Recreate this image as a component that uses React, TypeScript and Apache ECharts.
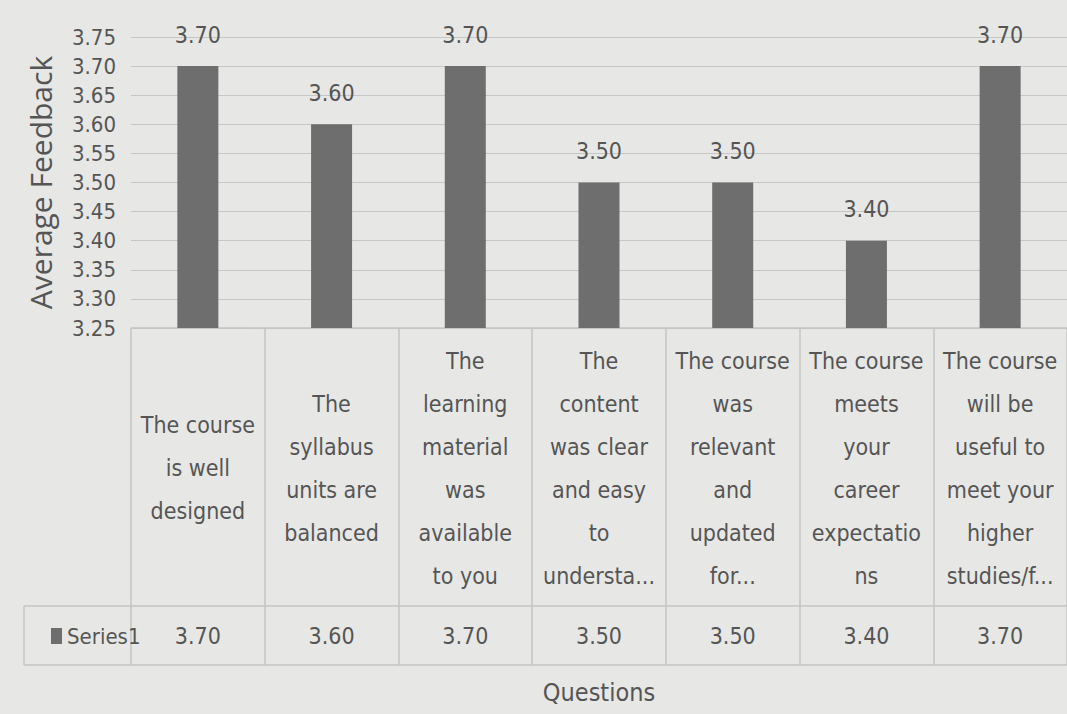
import React, { useEffect, useRef } from "react";
import * as echarts from "echarts";

const categories = [
  "The course\nis well\ndesigned",
  "The\nsyllabus\nunits are\nbalanced",
  "The\nlearning\nmaterial\nwas\navailable\nto you",
  "The\ncontent\nwas clear\nand easy\nto\nundersta...",
  "The course\nwas\nrelevant\nand\nupdated\nfor...",
  "The course\nmeets\nyour\ncareer\nexpectatio\nns",
  "The course\nwill be\nuseful to\nmeet your\nhigher\nstudies/f...",
];
const seriesName = "Series1";
const values = [3.7, 3.6, 3.7, 3.5, 3.5, 3.4, 3.7];
const yMin = 3.25;
const yMax = 3.75;
const yStep = 0.05;
const yTitle = "Average Feedback";
const xTitle = "Questions";

const NARROW = "'Liberation Sans Narrow', 'DejaVu Sans Condensed', 'Liberation Sans', sans-serif";
const TEXT = "#555555";
const BORDER = "#c4c4c2";

export default function App() {
  const ref = useRef<HTMLDivElement>(null);
  useEffect(() => {
    if (!ref.current) return;
    const chart = echarts.init(ref.current, undefined, { renderer: "svg" });
    chart.setOption({
      animation: false,
      backgroundColor: "#e7e7e5",
      textStyle: { fontFamily: NARROW, color: TEXT },
      legend: {
        data: [seriesName],
        left: 46,
        top: 620,
        icon: "rect",
        itemWidth: 11,
        itemHeight: 16,
        itemGap: 3,
        textStyle: { fontFamily: NARROW, fontSize: 22, color: TEXT },
      },
      grid: { left: 131, right: 0, top: 37, height: 291, containLabel: false },
      xAxis: [
        {
          type: "category",
          data: categories,
          position: "bottom",
          axisLine: { show: true, lineStyle: { color: BORDER, width: 1.5 } },
          axisTick: { show: true, length: 278, lineStyle: { color: BORDER, width: 1.5 } },
          axisLabel: {
            interval: 0,
            fontFamily: NARROW,
            fontSize: 23,
            lineHeight: 43,
            color: TEXT,
            align: "center",
            verticalAlign: "middle",
            margin: 140,
          },
        },
        {
          type: "category",
          data: values.map((v) => v.toFixed(2)),
          position: "bottom",
          offset: 278,
          axisLine: { show: true, lineStyle: { color: BORDER, width: 1.5 } },
          axisTick: { show: true, length: 59, lineStyle: { color: BORDER, width: 1.5 } },
          axisLabel: {
            interval: 0,
            fontFamily: NARROW,
            fontSize: 23,
            color: TEXT,
            verticalAlign: "middle",
            margin: 30,
          },
          name: xTitle,
          nameLocation: "middle",
          nameGap: 86,
          nameTextStyle: { fontFamily: NARROW, fontSize: 25, color: TEXT, verticalAlign: "middle" },
        },
      ],
      yAxis: {
        type: "value",
        min: yMin,
        max: yMax,
        interval: yStep,
        axisLine: { show: false },
        axisTick: { show: false },
        splitLine: { show: true, lineStyle: { color: "#c6c6c4", width: 1.2 } },
        axisLabel: {
          fontFamily: NARROW,
          fontSize: 22,
          color: TEXT,
          margin: 15,
          formatter: (v: number) => v.toFixed(2),
        },
        name: yTitle,
        nameLocation: "middle",
        nameRotate: 90,
        nameGap: 76,
        nameTextStyle: { fontFamily: "'Open Sans', sans-serif", fontSize: 30, color: TEXT },
      },
      series: [
        {
          name: seriesName,
          type: "bar",
          data: values,
          xAxisIndex: 0,
          barWidth: 41,
          itemStyle: { color: "#6e6e6e" },
          label: {
            show: true,
            position: "top",
            distance: 20,
            fontFamily: NARROW,
            fontSize: 23,
            color: TEXT,
            formatter: (p: any) => Number(p.value).toFixed(2),
          },
        },
      ],
      graphic: [
        { type: "line", shape: { x1: 24, y1: 606, x2: 131, y2: 606 }, style: { stroke: BORDER, lineWidth: 1.5 } },
        { type: "line", shape: { x1: 24, y1: 665, x2: 1067, y2: 665 }, style: { stroke: BORDER, lineWidth: 1.5 } },
        { type: "line", shape: { x1: 24, y1: 606, x2: 24, y2: 665 }, style: { stroke: BORDER, lineWidth: 1.5 } },
      ],
    });
    return () => chart.dispose();
  }, []);
  return (
    <div
      ref={ref}
      style={{ position: "absolute", left: 0, top: 0, width: 1067, height: 714 }}
    />
  );
}
